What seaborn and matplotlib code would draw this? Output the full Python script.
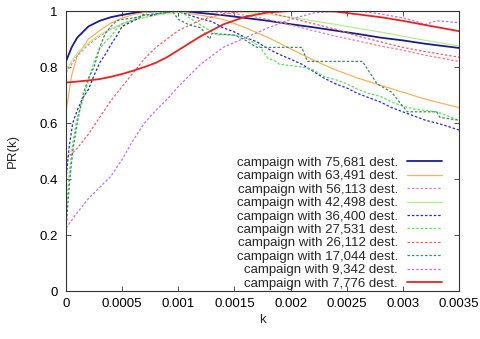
import matplotlib
matplotlib.use("Agg")
import matplotlib.pyplot as plt
import seaborn as sns
import pandas as pd

# ---------------- data ----------------
k_smooth = [0, 0.00005, 0.0001, 0.0002, 0.0003, 0.0004, 0.0005, 0.0006, 0.0007,
            0.0008, 0.0009, 0.001, 0.0012, 0.0014, 0.0016, 0.0018, 0.002, 0.0022,
            0.0024, 0.0026, 0.0028, 0.003, 0.0032, 0.0035]

pr_75681 = [0.82, 0.87, 0.905, 0.945, 0.965, 0.978, 0.986, 0.993, 0.997, 0.999, 1.0, 1.0,
            0.993, 0.985, 0.975, 0.965, 0.953, 0.942, 0.93, 0.918, 0.905, 0.895, 0.883, 0.868]
pr_63491 = [0.64, 0.77, 0.84, 0.9, 0.93, 0.957, 0.975, 0.987, 0.995, 1.0, 1.0, 0.997,
            0.985, 0.97, 0.94, 0.905, 0.865, 0.825, 0.79, 0.76, 0.735, 0.71, 0.685, 0.655]
pr_56113 = [0.78, 0.81, 0.84, 0.88, 0.91, 0.935, 0.953, 0.967, 0.977, 0.986, 0.993, 0.997,
            1.0, 0.995, 0.985, 0.97, 0.95, 0.93, 0.91, 0.893, 0.875, 0.86, 0.842, 0.82]
pr_42498 = [0.79, 0.82, 0.85, 0.886, 0.915, 0.937, 0.955, 0.968, 0.978, 0.985, 0.99, 0.995,
            1.0, 1.0, 0.995, 0.988, 0.978, 0.965, 0.952, 0.938, 0.925, 0.91, 0.895, 0.875]
pr_26112 = [0.475, 0.49, 0.51, 0.56, 0.62, 0.68, 0.73, 0.78, 0.83, 0.87, 0.9, 0.93,
            0.968, 0.99, 1.0, 0.995, 0.975, 0.955, 0.935, 0.91, 0.89, 0.87, 0.855, 0.835]
pr_7776 = [0.745, 0.746, 0.748, 0.752, 0.757, 0.765, 0.775, 0.787, 0.8, 0.815, 0.835, 0.86,
           0.91, 0.952, 0.98, 0.995, 1.0, 1.0, 0.998, 0.988, 0.978, 0.965, 0.95, 0.928]

k_9342 = [0, 0.0001, 0.0002, 0.0003, 0.0004, 0.0005, 0.0006, 0.0007, 0.0008, 0.0009,
          0.001, 0.0012, 0.0014, 0.0016, 0.0018, 0.002, 0.0022, 0.0024, 0.0026, 0.0028,
          0.003, 0.0031, 0.0032, 0.0033, 0.0034, 0.0035]
pr_9342 = [0.225, 0.28, 0.33, 0.37, 0.41, 0.47, 0.54, 0.6, 0.645, 0.685,
           0.73, 0.81, 0.87, 0.905, 0.94, 0.97, 0.993, 1.0, 1.0, 0.99,
           0.975, 0.965, 0.952, 0.965, 0.962, 0.958]

k_36400 = [0, 0.00003, 0.00006, 0.0001, 0.00015, 0.0002, 0.00025, 0.0003, 0.00035, 0.0004,
           0.00045, 0.0005, 0.00055, 0.0006, 0.00065, 0.0007, 0.00075, 0.0008, 0.00085, 0.0009,
           0.00095, 0.001, 0.0011, 0.0012, 0.0013, 0.0014, 0.0015, 0.0016, 0.0017, 0.0018,
           0.0019, 0.002, 0.0021, 0.0022, 0.0023, 0.0024, 0.0025, 0.0026, 0.0027, 0.0028,
           0.0029, 0.003, 0.0031, 0.0032, 0.0033, 0.0034, 0.0035]
pr_36400 = [0.40, 0.52, 0.60, 0.645, 0.69, 0.72, 0.77, 0.815, 0.845, 0.88,
            0.91, 0.945, 0.955, 0.965, 0.975, 0.99, 0.983, 0.988, 0.993, 0.995,
            1.0, 0.998, 0.985, 0.972, 0.962, 0.94, 0.925, 0.905, 0.89, 0.865,
            0.845, 0.828, 0.81, 0.785, 0.76, 0.74, 0.725, 0.705, 0.69, 0.675,
            0.655, 0.64, 0.625, 0.61, 0.6, 0.588, 0.575]

k_27531 = [0, 0.00003, 0.00006, 0.0001, 0.00015, 0.0002, 0.00025, 0.0003, 0.00035, 0.0004,
           0.00045, 0.0005, 0.00055, 0.0006, 0.00065, 0.0007, 0.0008, 0.0009, 0.001, 0.00105,
           0.0011, 0.0012, 0.00128, 0.0013, 0.00135, 0.0014, 0.0015, 0.0016, 0.0017, 0.00173,
           0.0018, 0.00185, 0.0019, 0.002, 0.0021, 0.0022, 0.0023, 0.0024, 0.0025, 0.0026,
           0.0027, 0.0028, 0.0029, 0.003, 0.0031, 0.0032, 0.0033, 0.0034, 0.0035]
pr_27531 = [0.28, 0.42, 0.53, 0.62, 0.68, 0.75, 0.82, 0.865, 0.89, 0.91,
            0.935, 0.955, 0.962, 0.97, 0.978, 0.986, 0.99, 0.996, 1.0, 0.99,
            0.975, 0.95, 0.93, 0.925, 0.915, 0.915, 0.914, 0.905, 0.88, 0.87,
            0.83, 0.825, 0.81, 0.805, 0.80, 0.79, 0.765, 0.755, 0.74, 0.72,
            0.705, 0.695, 0.675, 0.66, 0.65, 0.645, 0.64, 0.625, 0.61]

k_17044 = [0, 0.00003, 0.00006, 0.0001, 0.00015, 0.0002, 0.00025, 0.0003, 0.00035, 0.0004,
           0.00045, 0.0005, 0.0006, 0.0007, 0.0008, 0.0009, 0.00095, 0.001, 0.0011, 0.0012,
           0.00128, 0.0013, 0.0015, 0.0016, 0.0017, 0.0021, 0.00215, 0.00264, 0.00277, 0.0029,
           0.00304, 0.0033, 0.00333, 0.0035]
pr_17044 = [0.22, 0.38, 0.5, 0.6, 0.7, 0.76, 0.8, 0.87, 0.92, 0.945,
            0.965, 0.97, 0.975, 0.985, 0.99, 0.995, 0.998, 0.97, 0.95, 0.94,
            0.9, 0.92, 0.914, 0.895, 0.87, 0.87, 0.82, 0.82, 0.74, 0.71,
            0.64, 0.64, 0.62, 0.61]

labels = ["campaign with 75,681 dest.", "campaign with 63,491 dest.",
          "campaign with 56,113 dest.", "campaign with 42,498 dest.",
          "campaign with 36,400 dest.", "campaign with 27,531 dest.",
          "campaign with 26,112 dest.", "campaign with 17,044 dest.",
          "campaign with 9,342 dest.", "campaign with 7,776 dest."]

x_ticks = [0, 0.0005, 0.001, 0.0015, 0.002, 0.0025, 0.003, 0.0035]
x_tick_labels = ["0", "0.0005", "0.001", "0.0015", "0.002", "0.0025", "0.003", "0.0035"]
y_ticks = [0, 0.2, 0.4, 0.6, 0.8, 1.0]
y_tick_labels = ["0", "0.2", "0.4", "0.6", "0.8", "1"]

# ---------------- style ----------------
sns.set_theme(style="ticks")
plt.rcParams["font.family"] = ["Liberation Sans", "DejaVu Sans"]
FS = 9.5

series = [
    (k_smooth, pr_75681, "#1c1c8a", "-", 1.3),
    (k_smooth, pr_63491, "#f5b45c", "-", 0.9),
    (k_smooth, pr_56113, "#f07ca0", (0, (2, 1.5)), 0.9),
    (k_smooth, pr_42498, "#b4ee8c", "-", 0.9),
    (k_36400, pr_36400, "#2626d0", (0, (2, 1.5)), 0.9),
    (k_27531, pr_27531, "#5ae05a", (0, (2, 1.5)), 0.9),
    (k_smooth, pr_26112, "#f06262", (0, (2, 1.5)), 0.9),
    (k_17044, pr_17044, "#3a8a62", (0, (2, 1.5)), 0.9),
    (k_9342, pr_9342, "#c070f0", (0, (2, 1.5)), 0.9),
    (k_smooth, pr_7776, "#e82222", "-", 1.3),
]

fig = plt.figure(figsize=(4.8, 3.39), dpi=100)
ax = fig.add_axes([66 / 480, 1 - 291 / 339, (459 - 66) / 480, (291 - 11) / 339])

for (kx, py, col, ls, lw), lab in zip(series, labels):
    df = pd.DataFrame({"k": kx, "PR": py})
    sns.lineplot(data=df, x="k", y="PR", ax=ax, color=col, linestyle=ls,
                 linewidth=lw, label=lab, sort=False)

ax.set_xlim(0, 0.0035)
ax.set_ylim(0, 1)
ax.set_xticks(x_ticks)
ax.set_xticklabels(x_tick_labels)
ax.set_yticks(y_ticks)
ax.set_yticklabels(y_tick_labels)
ax.set_xlabel("k", fontsize=FS, labelpad=3)
ax.set_ylabel("PR(k)", fontsize=FS, labelpad=15)

for sp in ax.spines.values():
    sp.set_visible(True)
    sp.set_color("#333333")
    sp.set_linewidth(0.8)
ax.tick_params(axis="both", which="major", direction="in", length=3.5, width=0.6,
               color="#333333", labelsize=FS, top=True, right=True,
               labelcolor="black")
ax.tick_params(axis="x", pad=5)
ax.tick_params(axis="y", pad=6)

leg = ax.legend(loc="lower right", bbox_to_anchor=(0.959, 0.0), frameon=False,
                markerfirst=False, fontsize=FS, handlelength=2.6, handletextpad=0.7,
                labelspacing=0.09, borderpad=0, borderaxespad=0.1)

fig.savefig("out.png", dpi=100)
